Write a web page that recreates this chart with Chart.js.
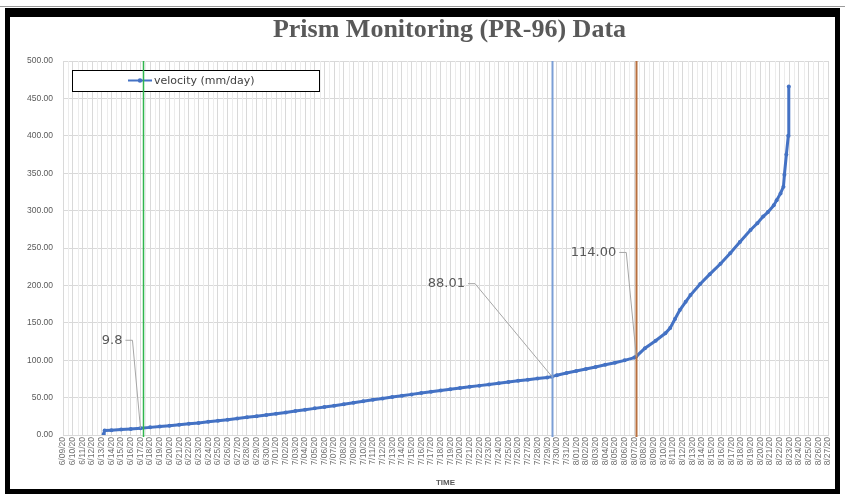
<!DOCTYPE html>
<html><head><meta charset="utf-8">
<script src="https://cdn.jsdelivr.net/npm/chart.js@4.4.1/dist/chart.umd.min.js"></script>
<style>
html,body{margin:0;padding:0;background:#fff;}
#wrap{position:relative;width:845px;height:495px;overflow:hidden;}
#frame{position:absolute;left:5px;top:8px;width:825px;height:472px;border-style:solid;border-color:#000;border-width:9px 5px 5px 5px;pointer-events:none;}
#topline{position:absolute;left:0;top:6px;width:845px;height:1px;background:#9a9a9a;}
</style></head><body>
<div id="wrap"><canvas id="c" width="845" height="495"></canvas><div id="topline"></div><div id="frame"></div></div>
<script>
// ---- data ----
const chartTitle = 'Prism Monitoring (PR-96) Data';
const dateLabels = [
 '6/09/20','6/10/20','6/11/20','6/12/20','6/13/20','6/14/20','6/15/20','6/16/20','6/17/20','6/18/20',
 '6/19/20','6/20/20','6/21/20','6/22/20','6/23/20','6/24/20','6/25/20','6/26/20','6/27/20','6/28/20',
 '6/29/20','6/30/20','7/01/20','7/02/20','7/03/20','7/04/20','7/05/20','7/06/20','7/07/20','7/08/20',
 '7/09/20','7/10/20','7/11/20','7/12/20','7/13/20','7/14/20','7/15/20','7/16/20','7/17/20','7/18/20',
 '7/19/20','7/20/20','7/21/20','7/22/20','7/23/20','7/24/20','7/25/20','7/26/20','7/27/20','7/28/20',
 '7/29/20','7/30/20','7/31/20','8/01/20','8/02/20','8/03/20','8/04/20','8/05/20','8/06/20','8/07/20',
 '8/08/20','8/09/20','8/10/20','8/11/20','8/12/20','8/13/20','8/14/20','8/15/20','8/16/20','8/17/20',
 '8/18/20','8/19/20','8/20/20','8/21/20','8/22/20','8/23/20','8/24/20','8/25/20','8/26/20','8/27/20'
];
// time position (in label steps) of each reading
const readingDay = [
 4.2,4.3,5,6,7,8,9,10,11,12,13,14,15,16,17,18,19,20,21,22,23,24,25,26,27,28,29,30,
 31,32,33,34,35,36,37,38,39,40,41,42,43,44,45,46,47,48,49,50,50.5,51,52,53,54,55,56,57,58,59,59.2,
 60.1,61.2,62.2,62.7,63.2,63.7,64.3,64.8,65.8,66.8,67.9,68.9,69.9,71.0,71.7,72.3,72.8,73.4,73.7,74.1,74.4,74.5,74.7,74.9,74.95
];
const velocity = [
 1,6,6.5,7.2,8.0,9.0,10.2,11.3,12.5,13.8,15.0,16.2,17.6,19.0,20.5,22.0,23.6,25.2,26.8,28.5,30.2,32.0,33.8,35.6,37.4,39.2,41.0,43.0,
 45.0,47.0,48.8,50.7,52.5,54.3,56.0,57.8,59.5,61.2,62.8,64.4,66.0,67.6,69.2,70.8,72.4,74.0,75.5,77.0,78,80.0,82.8,85.5,88.2,91.0,93.8,96.6,99.8,103.5,105,
 116,126,136,143,155,167,178,187,202,215,229,243,258,274,283,292,298,307,314,323,332,348,375,400,466
];
const yTicks = [0,50,100,150,200,250,300,350,400,450,500];
const eventDays = [8.26, 50.5, 59.2];
const eventColors = ['#2fb54c', '#7c9fd6', '#b8703f'];
const calloutText = ['9.8', '88.01', '114.00'];
const calloutIndex = [5, 48, 58];   // which reading each callout points to
const seriesName = 'velocity (mm/day)';

const points = readingDay.map((d, i) => ({x: d, y: velocity[i]}));

const overlay = {
  id: 'overlay',
  beforeDatasetsDraw(chart) {
    const {ctx, chartArea: a, scales: {x}} = chart;
    ctx.save();
    ctx.strokeStyle = '#ececec'; ctx.lineWidth = 1;
    for (let i = 0; i < dateLabels.length - 1; i++) {
      const px = Math.round(x.getPixelForValue(i + 0.5)) + 0.5;
      ctx.beginPath(); ctx.moveTo(px, a.top); ctx.lineTo(px, a.bottom); ctx.stroke();
    }
    ctx.restore();
  },
  afterDatasetsDraw(chart) {
    const {ctx, chartArea: a, scales: {x, y}} = chart;
    ctx.save();
    // title
    ctx.fillStyle = '#595959';
    ctx.font = 'bold 26px "Liberation Serif"';
    ctx.textAlign = 'center'; ctx.textBaseline = 'middle';
    ctx.fillText(chartTitle, (a.left + a.right) / 2 + 4, 30);
    // legend box
    const lx = a.left + 9, ly = a.top + 9, lw = 247, lh = 21;
    ctx.fillStyle = '#fff';
    ctx.fillRect(lx, ly, lw, lh);
    ctx.strokeStyle = '#000'; ctx.lineWidth = 1;
    ctx.strokeRect(lx + 0.5, ly + 0.5, lw, lh);
    ctx.strokeStyle = '#4472c4'; ctx.lineWidth = 2;
    ctx.beginPath(); ctx.moveTo(lx + 56, ly + 10.5); ctx.lineTo(lx + 80, ly + 10.5); ctx.stroke();
    ctx.fillStyle = '#4472c4';
    ctx.beginPath(); ctx.arc(lx + 68, ly + 10.5, 2.2, 0, Math.PI * 2); ctx.fill();
    ctx.fillStyle = '#404040'; ctx.font = '11px "DejaVu Sans"';
    ctx.textBaseline = 'middle'; ctx.textAlign = 'left';
    ctx.fillText(seriesName, lx + 82, ly + 11);
    // event lines
    eventDays.forEach((d, i) => {
      const px = Math.round(x.getPixelForValue(d)) + 0.5;
      ctx.strokeStyle = eventColors[i]; ctx.lineWidth = i === 0 ? 1.5 : 2;
      ctx.beginPath(); ctx.moveTo(px, a.top); ctx.lineTo(px, a.bottom + 2); ctx.stroke();
    });
    // callouts
    const elbows = [[-8, -88], [-77, -93], [-10, -104]];
    calloutText.forEach((t, i) => {
      const k = calloutIndex[i];
      const px = x.getPixelForValue(readingDay[k]);
      const py = y.getPixelForValue(velocity[k]);
      const ex = px + elbows[i][0], ey = py + elbows[i][1];
      ctx.strokeStyle = '#a6a6a6'; ctx.lineWidth = 1;
      ctx.beginPath(); ctx.moveTo(ex - 7, ey); ctx.lineTo(ex, ey); ctx.lineTo(px, py); ctx.stroke();
      ctx.fillStyle = '#595959'; ctx.font = '13px "DejaVu Sans"';
      ctx.textAlign = 'right'; ctx.textBaseline = 'middle';
      ctx.fillText(t, ex - 10, ey);
    });
    ctx.restore();
  }
};

new Chart(document.getElementById('c'), {
  type: 'line',
  data: {
    datasets: [{
      label: seriesName,
      data: points,
      borderColor: '#4472c4',
      backgroundColor: '#4472c4',
      borderWidth: 3,
      pointRadius: 2,
      pointBorderWidth: 0,
      tension: 0
    }]
  },
  options: {
    responsive: false,
    devicePixelRatio: 1,
    animation: false,
    layout: {padding: {left: 12, right: 17, top: 61, bottom: 5}},
    plugins: {
      legend: {display: false},
      tooltip: {enabled: false},
      title: {display: false}
    },
    scales: {
      x: {
        type: 'linear',
        min: 0, max: dateLabels.length - 1,
        afterFit(s) { s.height = 55; },
        ticks: {
          stepSize: 1, autoSkip: false, maxTicksLimit: 200,
          minRotation: 90, maxRotation: 90,
          callback: v => dateLabels[v],
          color: '#707070',
          font: {family: '"Liberation Sans"', size: 8.5},
          padding: 2
        },
        grid: {color: '#d9d9d9', drawTicks: false},
        border: {color: '#d9d9d9'},
        title: {display: true, text: 'TIME', color: '#595959',
          font: {family: '"Liberation Sans"', size: 8, weight: 'bold'}, padding: {top: 0, bottom: 2}}
      },
      y: {
        min: 0, max: 500,
        afterFit(s) { s.width = 51; },
        afterBuildTicks(s) { s.ticks = yTicks.map(v => ({value: v})); },
        ticks: {
          callback: v => Number(v).toFixed(2),
          color: '#595959',
          font: {family: '"Liberation Sans"', size: 8.5},
          padding: 10
        },
        grid: {color: '#d9d9d9', drawTicks: false},
        border: {display: false}
      }
    }
  },
  plugins: [overlay]
});
</script>
</body></html>
